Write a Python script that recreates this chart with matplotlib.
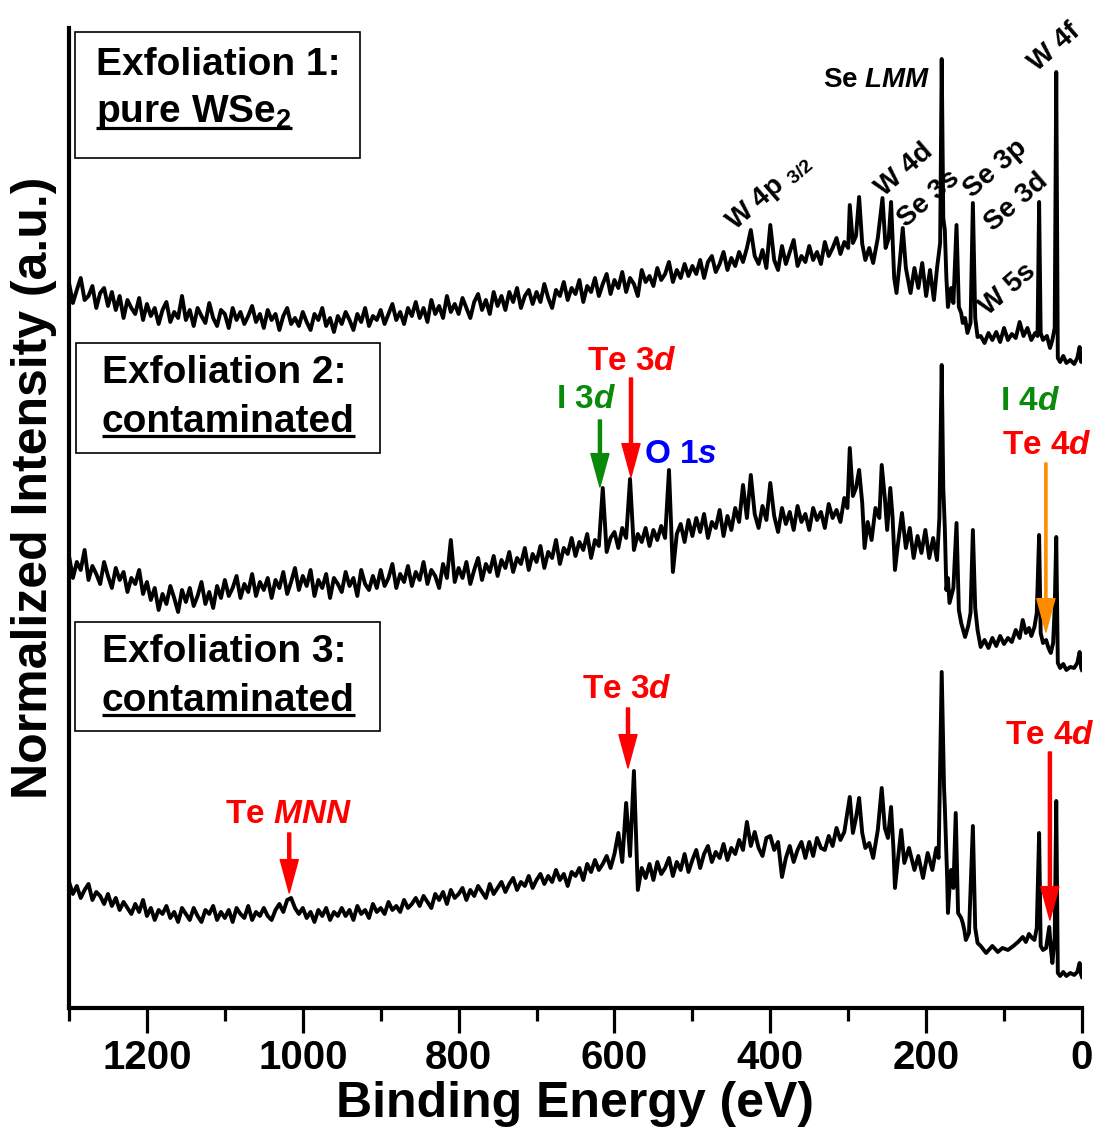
import numpy as np
import matplotlib.pyplot as plt
from matplotlib.patches import Rectangle

# -----------------------------
# DATA (offset stacked, a.u.)
# -----------------------------
# common 5 eV reading grid for the broad background (1300 -> 305 eV)
e_bg = [1300, 1295, 1290, 1285, 1280, 1275, 1270, 1265, 1260, 1255,
        1250, 1245, 1240, 1235, 1230, 1225, 1220, 1215, 1210, 1205,
        1200, 1195, 1190, 1185, 1180, 1175, 1170, 1165, 1160, 1155,
        1150, 1145, 1140, 1135, 1130, 1125, 1120, 1115, 1110, 1105,
        1100, 1095, 1090, 1085, 1080, 1075, 1070, 1065, 1060, 1055,
        1050, 1045, 1040, 1035, 1030, 1025, 1020, 1015, 1010, 1005,
        1000, 995, 990, 985, 980, 975, 970, 965, 960, 955,
        950, 945, 940, 935, 930, 925, 920, 915, 910, 905,
        900, 895, 890, 885, 880, 875, 870, 865, 860, 855,
        850, 845, 840, 835, 830, 825, 820, 815, 810, 805,
        800, 795, 790, 785, 780, 775, 770, 765, 760, 755,
        750, 745, 740, 735, 730, 725, 720, 715, 710, 705,
        700, 695, 690, 685, 680, 675, 670, 665, 660, 655,
        650, 645, 640, 635, 630, 625, 620, 615, 610, 605,
        600, 595, 590, 585, 580, 575, 570, 565, 560, 555,
        550, 545, 540, 535, 530, 525, 520, 515, 510, 505,
        500, 495, 490, 485, 480, 475, 470, 465, 460, 455,
        450, 445, 440, 435, 430, 425, 420, 415, 410, 405,
        400, 395, 390, 385, 380, 375, 370, 365, 360, 355,
        350, 345, 340, 335, 330, 325, 320, 315, 310, 305]

# Exfoliation 1: pure WSe2
i1_bg = [725, 705, 718, 730, 708, 712, 722, 700, 715, 720,
         702, 716, 698, 712, 690, 708, 700, 694, 710, 688,
         704, 692, 700, 684, 698, 706, 686, 696, 690, 712,
         688, 698, 682, 700, 692, 685, 705, 690, 682, 698,
         694, 680, 700, 688, 696, 684, 692, 702, 686, 694,
         680, 698, 688, 694, 678, 692, 700, 684, 690, 682,
         696, 686, 678, 694, 688, 700, 682, 690, 676, 692,
         684, 696, 688, 678, 694, 686, 700, 682, 692, 688,
         698, 684, 694, 704, 688, 696, 684, 700, 692, 706,
         690, 700, 686, 708, 694, 702, 690, 712, 696, 704,
         694, 710, 700, 690, 706, 714, 698, 708, 694, 716,
         702, 712, 698, 716, 706, 720, 700, 712, 718, 704,
         716, 706, 724, 710, 700, 718, 712, 726, 708, 720,
         714, 728, 706, 722, 716, 730, 712, 724, 734, 714,
         728, 720, 736, 716, 730, 724, 712, 738, 726, 732,
         722, 740, 728, 734, 746, 726, 738, 730, 744, 732,
         742, 734, 748, 730, 746, 752, 736, 744, 756, 738,
         750, 742, 756, 746, 760, 778, 752, 744, 758, 740,
         783, 748, 738, 762, 744, 756, 768, 742, 752, 746,
         762, 748, 756, 744, 766, 752, 760, 770, 754, 766]
e1_pk = [300, 298, 294, 290, 286, 282, 278, 273, 268, 262,
         256, 252, 248, 245, 241, 238, 234, 230, 226, 220,
         215, 210, 205, 200, 195, 190, 186, 182, 180, 178,
         176, 174, 172, 168, 165, 161, 158, 155, 153, 150,
         147, 143, 140, 137, 134, 130, 125, 120, 115, 110,
         105, 100, 95, 90, 85, 80, 75, 70, 65, 60,
         57, 55, 53, 50, 45, 41, 38, 35, 33, 31,
         28, 24, 20, 15, 10, 6, 3, 1, 0]
i1_pk = [760, 803, 765, 772, 811, 764, 748, 760, 745, 770,
         810, 760, 770, 806, 730, 715, 745, 780, 740, 715,
         740, 720, 745, 712, 738, 708, 740, 765, 949, 790,
         778, 730, 701, 720, 705, 783, 701, 695, 685, 690,
         675, 685, 805, 690, 671, 672, 665, 675, 668, 676,
         666, 680, 668, 674, 670, 686, 672, 680, 668, 675,
         672, 806, 675, 668, 672, 660, 668, 680, 936, 650,
         646, 652, 645, 648, 644, 650, 661, 646, 648]

# Exfoliation 2: contaminated
i2_bg = [452, 430, 446, 438, 458, 428, 442, 434, 424, 446,
         432, 420, 440, 428, 436, 416, 430, 424, 438, 414,
         426, 408, 420, 398, 414, 404, 422, 410, 396, 418,
         406, 420, 402, 412, 426, 404, 416, 400, 422, 410,
         428, 412, 420, 432, 410, 424, 416, 434, 412, 426,
         418, 430, 410, 428, 420, 436, 414, 426, 440, 418,
         432, 422, 438, 412, 428, 420, 434, 410, 430, 424,
         416, 436, 422, 430, 412, 438, 424, 418, 432, 420,
         438, 422, 430, 444, 420, 434, 426, 442, 422, 436,
         428, 446, 424, 438, 432, 420, 444, 430, 468, 426,
         440, 430, 446, 424, 438, 450, 428, 444, 436, 452,
         432, 448, 440, 456, 436, 450, 444, 460, 438, 454,
         446, 462, 440, 456, 450, 468, 444, 460, 454, 470,
         452, 466, 458, 474, 450, 468, 462, 520, 456, 470,
         476, 460, 480, 470, 529, 458, 474, 466, 480, 462,
         478, 468, 482, 470, 538, 436, 474, 484, 466, 488,
         472, 490, 476, 494, 470, 486, 480, 498, 472, 492,
         478, 500, 486, 523, 490, 533, 494, 480, 502, 488,
         525, 492, 476, 500, 484, 496, 478, 502, 486, 494,
         478, 500, 488, 496, 480, 504, 490, 498, 486, 510]
e2_pk = [301, 298, 294, 290, 286, 282, 279, 275, 270, 265,
         260, 257, 253, 250, 246, 243, 240, 236, 231, 226,
         221, 216, 211, 206, 201, 196, 191, 186, 183, 180,
         178, 176, 174, 172, 170, 165, 161, 158, 155, 150,
         146, 143, 140, 137, 134, 130, 125, 120, 115, 110,
         105, 100, 95, 90, 85, 80, 76, 72, 68, 65,
         61, 58, 55, 53, 50, 46, 43, 40, 37, 35,
         33, 31, 28, 24, 20, 15, 10, 6, 3, 1, 0]
i2_pk = [500, 560, 512, 520, 538, 505, 460, 486, 468, 500,
         490, 543, 510, 478, 520, 490, 438, 465, 495, 460,
         480, 450, 472, 455, 478, 450, 470, 448, 490, 643,
         520, 480, 418, 430, 405, 420, 485, 398, 385, 371,
         382, 395, 478, 400, 378, 361, 368, 360, 370, 362,
         372, 364, 370, 366, 378, 370, 388, 375, 380, 372,
         381, 395, 473, 375, 365, 368, 360, 355, 365, 400,
         471, 345, 340, 344, 338, 341, 340, 345, 356, 340, 338]

# Exfoliation 3: contaminated
i3_bg = [126, 114, 122, 110, 118, 124, 108, 116, 112, 104,
         114, 102, 110, 98, 106, 100, 94, 104, 96, 108,
         92, 100, 88, 98, 94, 102, 90, 96, 86, 100,
         94, 88, 100, 92, 86, 98, 94, 102, 88, 96,
         90, 98, 86, 100, 94, 90, 102, 88, 96, 92,
         100, 92, 88, 98, 104, 96, 108, 110, 100, 94,
         100, 90, 96, 86, 98, 92, 100, 88, 96, 92,
         100, 92, 98, 88, 102, 94, 98, 90, 104, 96,
         100, 94, 106, 98, 102, 96, 108, 100, 104, 110,
         102, 112, 106, 100, 114, 108, 116, 104, 118, 110,
         114, 120, 108, 118, 112, 122, 116, 110, 124, 114,
         120, 126, 116, 124, 130, 118, 126, 122, 132, 120,
         128, 134, 124, 132, 126, 138, 128, 134, 122, 136,
         132, 140, 128, 144, 136, 148, 138, 144, 152, 140,
         154, 175, 146, 205, 152, 237, 118, 140, 130, 144,
         128, 146, 134, 140, 150, 132, 146, 138, 154, 136,
         148, 158, 140, 154, 162, 146, 156, 150, 164, 148,
         160, 154, 168, 158, 186, 162, 176, 160, 152, 170,
         172, 158, 166, 131, 150, 162, 146, 158, 166, 150,
         166, 152, 170, 160, 158, 172, 162, 180, 168, 176]
e3_pk = [298, 294, 290, 286, 282, 278, 273, 268, 262, 257,
         253, 249, 245, 242, 240, 236, 232, 228, 222, 215,
         210, 204, 198, 192, 187, 184, 180, 177, 176, 173,
         172, 170, 168, 165, 162, 159, 155, 153, 151, 149,
         145, 140, 137, 134, 130, 123, 115, 108, 102, 95,
         88, 82, 76, 72, 68, 64, 61, 58, 55, 53,
         50, 46, 42, 40, 38, 35, 33, 31, 28, 24,
         20, 15, 10, 6, 3, 1, 0]
i3_pk = [211, 175, 190, 210, 175, 160, 165, 150, 178, 220,
         180, 170, 201, 160, 120, 150, 178, 145, 160, 138,
         152, 130, 155, 138, 160, 150, 336, 220, 201, 130,
         95, 120, 138, 120, 195, 95, 90, 85, 78, 68,
         75, 182, 80, 65, 62, 55, 62, 56, 60, 58,
         62, 66, 71, 66, 74, 70, 68, 80, 175, 62,
         58, 60, 81, 60, 45, 70, 207, 35, 32, 36,
         32, 35, 33, 36, 45, 33, 31]

major_ticks = [1200, 1000, 800, 600, 400, 200, 0]
minor_ticks = [1300, 1100, 900, 700, 500, 300, 100]

# -----------------------------
# STYLE
# -----------------------------
plt.rcParams['font.family'] = ['Liberation Sans', 'DejaVu Sans']
plt.rcParams['font.weight'] = 'bold'
plt.rcParams['mathtext.fontset'] = 'custom'
plt.rcParams['mathtext.rm'] = 'Liberation Sans:bold'
plt.rcParams['mathtext.it'] = 'Liberation Sans:italic:bold'
plt.rcParams['mathtext.bf'] = 'Liberation Sans:bold'
plt.rcParams['mathtext.default'] = 'rm'

RED = '#ff0000'
GREEN = '#0a8a0a'
BLUE = '#0000ff'
ORANGE = '#ff8c00'

fig = plt.figure(figsize=(10.99, 11.29), dpi=100)
ax = fig.add_axes([0.0628, 0.1072, 0.9217, 0.868])


def px(x, y):
    # reference-picture pixel -> data coords (eV, a.u.)
    return (1082 - x) / 0.7775, 1008 - y


# -----------------------------
# SPECTRA
# -----------------------------
for ib, ep, ip in [(i1_bg, e1_pk, i1_pk), (i2_bg, e2_pk, i2_pk), (i3_bg, e3_pk, i3_pk)]:
    ax.plot(e_bg + ep, ib + ip, color='black', lw=2.8)

ax.set_xlim(1300, 0)
ax.set_ylim(0, 980)
ax.set_xticks(major_ticks)
ax.set_xticks(minor_ticks, minor=True)
ax.set_yticks([])
for s in ['top', 'right']:
    ax.spines[s].set_visible(False)
for s in ['left', 'bottom']:
    ax.spines[s].set_linewidth(3)
ax.tick_params(axis='x', which='major', direction='out', length=18, width=2.3,
               labelsize=29, pad=4)
ax.tick_params(axis='x', which='minor', direction='out', length=9, width=2.3)
ax.set_xlabel('Binding Energy (eV)', fontsize=36, fontweight='bold', labelpad=3)
ax.set_ylabel('Normalized Intensity (a.u.)', fontsize=36, fontweight='bold')
ax.yaxis.set_label_coords(-0.012, 0.531)

# -----------------------------
# SAMPLE BOXES
# -----------------------------
under = []
boxes = [((77, 32, 362, 158), 'Exfoliation 1:', 'pure WSe$_2$', 98, 65, 113),
         ((78, 343, 382, 453), 'Exfoliation 2:', 'contaminated', 104, 373, 422),
         ((77, 622, 382, 731), 'Exfoliation 3:', 'contaminated', 104, 652, 701)]
for (x0, y0, x1, y1), top, bot, tx, ty1, ty2 in boxes:
    a = px(x0, y1)
    b = px(x1, y0)
    ax.add_patch(Rectangle((b[0], a[1]), a[0] - b[0], b[1] - a[1],
                           fill=False, lw=1.2, ec='black'))
    ax.text(*px(tx, ty1), top, fontsize=28, ha='left', va='center')
    under.append(ax.text(*px(tx, ty2), bot, fontsize=28, ha='left', va='center'))

# -----------------------------
# PEAK LABELS
# -----------------------------
ax.text(*px(877, 80), 'Se $\\mathit{LMM}$', fontsize=20, ha='center', va='center')
rot_labels = [((770, 192), 'W 4p $_{3/2}$'), ((905, 170), 'W 4d'), ((929, 199), 'Se 3s'),
              ((996, 169), 'Se 3p'), ((1017, 202), 'Se 3d'), ((1008, 289), 'W 5s'),
              ((1055, 47), 'W 4f')]
for (x, y), s in rot_labels:
    ax.text(*px(x, y), s, fontsize=20, ha='center', va='center', rotation=41,
            rotation_mode='anchor')

col_labels = [((587, 400), 'I 3$\\mathit{d}$', GREEN), ((633, 362), 'Te 3$\\mathit{d}$', RED),
              ((682, 455), 'O 1$\\mathit{s}$', BLUE), ((1030, 402), 'I 4$\\mathit{d}$', GREEN),
              ((1047, 446), 'Te 4$\\mathit{d}$', RED), ((628, 690), 'Te 3$\\mathit{d}$', RED),
              ((290, 815), 'Te $\\mathit{MNN}$', RED), ((1050, 736), 'Te 4$\\mathit{d}$', RED)]
for (x, y), s, c in col_labels:
    ax.text(*px(x, y), s, fontsize=24, color=c, ha='center', va='center')

arrows = [(601, 420, 487, GREEN, 2.2), (632, 378, 477, RED, 2.2),
          (1046, 463, 632, ORANGE, 1.6), (629, 708, 768, RED, 2.2),
          (291, 833, 893, RED, 2.2), (1050, 752, 920, RED, 2.2)]
for x, ya, yb, c, w in arrows:
    ax.annotate('', xy=px(x, yb), xytext=px(x, ya),
                arrowprops=dict(color=c, width=w, headwidth=13, headlength=24, shrink=0))

# underline the box captions
fig.canvas.draw()
r = fig.canvas.get_renderer()
inv = ax.transData.inverted()
for t in under:
    bb = t.get_window_extent(r)
    (xa, ya), (xb, yb) = inv.transform([[bb.x0, bb.y0], [bb.x1, bb.y0]])
    ax.plot([xa, xb], [ya + 4, yb + 4], color='black', lw=2.3, solid_capstyle='butt')

fig.savefig('out.png', dpi=100)
